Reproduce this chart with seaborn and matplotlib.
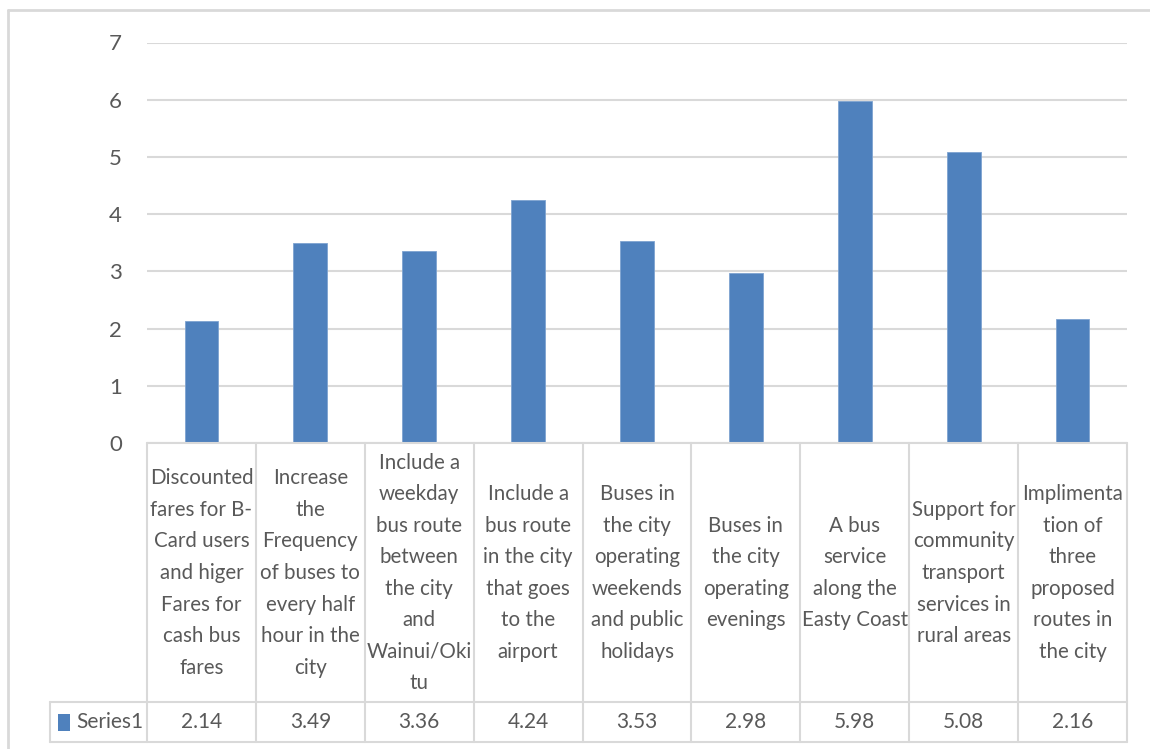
import matplotlib
matplotlib.use("Agg")
import matplotlib.pyplot as plt
import matplotlib.transforms as mtransforms
from matplotlib.lines import Line2D
from matplotlib.patches import Rectangle
import seaborn as sns
import pandas as pd

categories = [
    "Discounted\nfares for B-\nCard users\nand higer\nFares for\ncash bus\nfares",
    "Increase\nthe\nFrequency\nof buses to\nevery half\nhour in the\ncity",
    "Include a\nweekday\nbus route\nbetween\nthe city\nand\nWainui/Oki\ntu",
    "Include a\nbus route\nin the city\nthat goes\nto the\nairport",
    "Buses in\nthe city\noperating\nweekends\nand public\nholidays",
    "Buses in\nthe city\noperating\nevenings",
    "A bus\nservice\nalong the\nEasty Coast",
    "Support for\ncommunity\ntransport\nservices in\nrural areas",
    "Implimenta\ntion of\nthree\nproposed\nroutes in\nthe city",
]
values = [2.14, 3.49, 3.36, 4.24, 3.53, 2.98, 5.98, 5.08, 2.16]
value_labels = ["2.14", "3.49", "3.36", "4.24", "3.53", "2.98", "5.98", "5.08", "2.16"]
series_name = "Series1"
yticks = [0, 1, 2, 3, 4, 5, 6, 7]

sns.set_theme(style="white")
plt.rcParams['font.family'] = ['Lato', 'DejaVu Sans']

W, H = 1150, 749
BLUE = '#4F81BD'
GRID = '#d9d9d9'
TXT = '#595959'

def fx(px):
    return px / W

def fy(py):
    return 1 - py / H

fig = plt.figure(figsize=(W / 100, H / 100), dpi=100)
fig.patch.set_facecolor('white')
ax = fig.add_axes([fx(147), fy(443), fx(1127) - fx(147), fy(42.5) - fy(443)])

df = pd.DataFrame({'cat': list(range(len(values))), 'val': values})
sns.barplot(data=df, x='cat', y='val', color=BLUE, saturation=1, width=0.31,
            ax=ax, edgecolor='#7ea3d0', linewidth=0.6)

ax.set_ylim(0, 7)
ax.set_xlim(-0.5, len(values) - 0.5)
ax.set_yticks(yticks)
ax.set_yticklabels([str(t) for t in yticks], fontsize=16, color=TXT)
ax.tick_params(axis='y', length=0, pad=18)
ax.set_xticks([])
ax.set_xlabel('')
ax.set_ylabel('')
ax.yaxis.grid(True, color=GRID, lw=1.5)
ax.set_axisbelow(True)
for s in ax.spines.values():
    s.set_visible(False)

blend = mtransforms.blended_transform_factory(ax.transData, fig.transFigure)
lw = 1.5
# horizontal table lines
fig.add_artist(Line2D([fx(147), fx(1127)], [fy(443), fy(443)], transform=fig.transFigure, color=GRID, lw=lw))
fig.add_artist(Line2D([fx(50), fx(1127)], [fy(702), fy(702)], transform=fig.transFigure, color=GRID, lw=lw))
fig.add_artist(Line2D([fx(50), fx(1127)], [fy(742), fy(742)], transform=fig.transFigure, color=GRID, lw=lw))
fig.add_artist(Line2D([fx(50), fx(50)], [fy(702), fy(742)], transform=fig.transFigure, color=GRID, lw=lw))
# vertical column lines
for i in range(len(values) + 1):
    b = i - 0.5
    ax.add_artist(Line2D([b, b], [fy(443), fy(742)], transform=blend, color=GRID, lw=lw, clip_on=False))

for i, (cat, lab) in enumerate(zip(categories, value_labels)):
    ax.text(i, fy(573), cat, transform=blend, ha='center', va='center',
            fontsize=14.8, color=TXT, linespacing=1.72, clip_on=False)
    ax.text(i, fy(722), lab, transform=blend, ha='center', va='center',
            fontsize=15, color=TXT, clip_on=False)

fig.add_artist(Rectangle((fx(58), fy(731)), fx(70) - fx(58), fy(714) - fy(731),
                         transform=fig.transFigure, facecolor=BLUE, edgecolor='none'))
fig.text(fx(76), fy(722), series_name, ha='left', va='center', fontsize=15, color=TXT)

# outer chart border
fig.add_artist(Line2D([fx(8), fx(1150)], [fy(10), fy(10)], transform=fig.transFigure, color=GRID, lw=2))
fig.add_artist(Line2D([fx(8), fx(8)], [fy(10), fy(749)], transform=fig.transFigure, color=GRID, lw=2))

fig.savefig('out.png', dpi=100, facecolor='white')
